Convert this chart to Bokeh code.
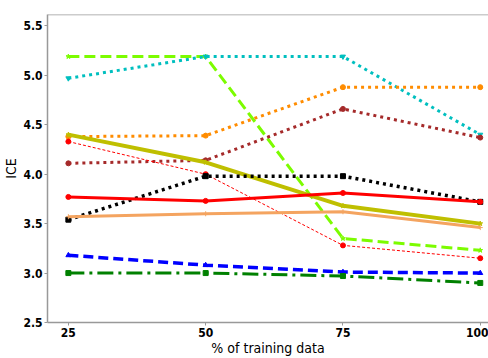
from bokeh.plotting import figure
from bokeh.models import FixedTicker, PrintfTickFormatter, Range1d, Span
from bokeh.embed import file_html
from bokeh.resources import INLINE

# ---- data ----
pct = [25, 50, 75, 100]
s_lime = [5.19, 5.19, 3.35, 3.23]
s_cyan = [4.97, 5.19, 5.19, 4.40]
s_orange = [4.38, 4.39, 4.88, 4.88]
s_brown = [4.11, 4.14, 4.66, 4.37]
s_olive = [4.40, 4.12, 3.68, 3.50]
s_red_dash = [4.33, 4.00, 3.28, 3.15]
s_black = [3.54, 3.98, 3.98, 3.72]
s_red = [3.77, 3.73, 3.81, 3.72]
s_sandy = [3.57, 3.60, 3.62, 3.46]
s_blue = [3.18, 3.08, 3.01, 3.00]
s_green = [3.00, 3.00, 2.97, 2.90]
y_ticks = [2.5, 3.0, 3.5, 4.0, 4.5, 5.0, 5.5]
x_ticks = [25, 50, 75, 100]
x_label = "% of training data"
y_label = "ICE"

FONT = "DejaVu Sans Condensed"
X0, X1, Y0, Y1 = 21.2, 101.5, 2.5, 5.615

p = figure(width=488, height=358, output_backend="svg", toolbar_location=None,
           x_range=Range1d(X0, X1), y_range=Range1d(Y0, Y1),
           min_border_left=44, min_border_right=0, min_border_top=14, min_border_bottom=35)
p.title.visible = False
p.outline_line_color = None
p.grid.visible = False
p.background_fill_color = "white"

# top border of the frame
p.add_layout(Span(location=Y1, dimension="width", line_color="#999999", line_width=1.5))

styles = [
    (s_lime, "#7CFC00", 3, "11 5", "star"),
    (s_cyan, "#00BFBF", 3, "3 4", "inverted_triangle"),
    (s_orange, "#FF8C00", 3, "3 4", "circle"),
    (s_brown, "#A52A2A", 3, "3 4", "circle"),
    (s_olive, "#BFBF00", 4, "solid", "star"),
    (s_red_dash, "#FF0000", 1, "3 2", "circle"),
    (s_black, "#000000", 3.5, "3 4", "square"),
    (s_red, "#FF0000", 3, "solid", "circle"),
    (s_sandy, "#F4A460", 3, "solid", "cross"),
    (s_blue, "#0000FF", 3.5, "10 5", "triangle"),
    (s_green, "#008000", 3, "16 5 3 5", "square"),
]
for vals, col, lw, dash, mk in styles:
    p.line(pct, vals, line_color=col, line_width=lw, line_dash=dash, line_cap="butt")
    p.scatter(pct, vals, marker=mk, size=5, fill_color=col, line_color=col)

p.xaxis.ticker = FixedTicker(ticks=x_ticks)
p.yaxis.ticker = FixedTicker(ticks=y_ticks)
p.xaxis.formatter = PrintfTickFormatter(format="%d")
p.yaxis.formatter = PrintfTickFormatter(format="%.1f")
for ax in (p.xaxis, p.yaxis):
    ax.axis_line_color = "#999999"
    ax.axis_line_width = 1.5
    ax.major_tick_line_color = "#999999"
    ax.major_tick_in = 0
    ax.major_tick_out = 3
    ax.minor_tick_line_color = None
    ax.major_label_text_font = FONT
    ax.major_label_text_font_style = "bold"
    ax.major_label_text_font_size = "12px"
    ax.major_label_text_color = "black"
    ax.axis_label_text_font = FONT
    ax.axis_label_text_font_style = "normal"
    ax.axis_label_text_font_size = "14px"
    ax.axis_label_text_color = "black"
p.xaxis.axis_label = x_label
p.yaxis.axis_label = y_label
p.xaxis.major_label_standoff = 2
p.yaxis.major_label_standoff = 2
p.xaxis.axis_label_standoff = 0
p.yaxis.axis_label_standoff = 1

open("out.html", "w").write(file_html(p, INLINE))
